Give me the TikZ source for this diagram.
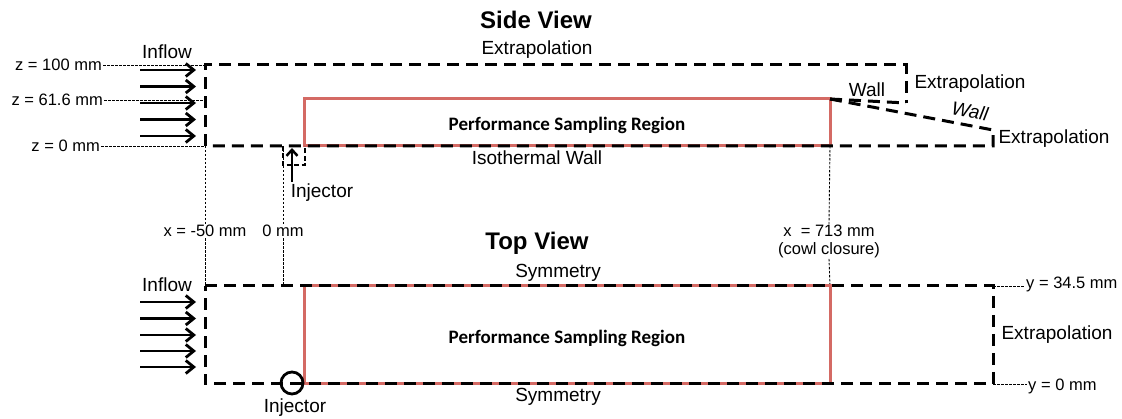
\documentclass[tikz,border=0pt]{standalone}
\usepackage{fontspec}
\setmainfont{Liberation Sans}
\newfontfamily\calib{Carlito}
\usetikzlibrary{arrows.meta}
\definecolor{psrred}{RGB}{212,106,100}
\begin{document}
\begin{tikzpicture}[x=1pt,y=-1pt,
  bnd/.style={line width=3pt,dash pattern=on 12pt off 7pt},
  guide/.style={line width=0.9pt,dash pattern=on 2.5pt off 1.5pt},
  psr/.style={draw=psrred,line width=3pt},
  flow/.style={line width=2.8pt,-{Straight Barb[length=8pt,width=13pt]}},
  lbl/.style={font=\fontsize{19}{22}\selectfont,inner sep=1pt},
  small/.style={font=\fontsize{16.5}{19}\selectfont,inner sep=1pt},
  ttl/.style={font=\fontsize{24}{28}\selectfont\bfseries,inner sep=1pt},
  psrtext/.style={font=\fontsize{19}{22}\selectfont\calib\bfseries,inner sep=1pt}]
\useasboundingbox (0,0) rectangle (1122,419);

% ---------------- Side view ----------------
\coordinate (s1) at (205,65);
\coordinate (s2) at (906,65);
\coordinate (s3) at (906,103);
\coordinate (sc) at (830,99);
\coordinate (s5) at (993,130);
\coordinate (s6) at (993,146);
\coordinate (s7) at (205,146);
\coordinate (sbl) at (304,146);
\coordinate (stl) at (304,99);
\coordinate (sbr) at (830,146);

\draw[psr] (sbl) -- (stl) -- (sc) -- (sbr) -- cycle;
\draw[bnd] (s7) -- (s1) -- (s2) -- (s3);
\draw[bnd] (sc) -- (s3);
\draw[bnd] (sc) -- (s5) -- (s6) -- (s7);

\node[ttl] (sideview) at (536,20) {Side View};
\node[lbl] (extraptop) at (537,50) {Extrapolation};
\node[psrtext] (psrside) at (567,125) {Performance Sampling Region};
\node[lbl] (iso) at (537,158) {Isothermal Wall};
\node[lbl] (wallup) at (867,90) {Wall};
\node[lbl,inner sep=0pt,rotate=-10,font=\fontsize{19}{22}\selectfont\itshape] (walllow) at (970,111) {Wall};
\node[lbl] (extrapr1) at (970,84) {Extrapolation};
\node[lbl] (extrapr2) at (1054,139) {Extrapolation};
\node[lbl] (inflowside) at (167,52) {Inflow};

\foreach \i/\yy in {1/70,2/86.5,3/103,4/119.5,5/136}{
  \coordinate (sa\i) at (140,\yy);
  \coordinate (sb\i) at (196,\yy);
  \draw[flow] (sa\i) -- (sb\i);
}

\node[small,anchor=east] (z100) at (103,65) {z = 100 mm};
\node[small,anchor=east] (z61) at (104,100) {z = 61.6 mm};
\node[small,anchor=east] (z0) at (101,146) {z = 0 mm};
\coordinate (z61e) at (205,100);
\draw[guide] (z100.east) -- (s1);
\draw[guide] (z61.east) -- (z61e);
\draw[guide] (z0.east) -- (s7);

% injector (side)
\coordinate (ia) at (283,146);
\coordinate (ib) at (283,165);
\coordinate (ic) at (305,165);
\coordinate (id) at (305,146);
\draw[line width=2.3pt,dash pattern=on 5pt off 2.5pt] (ia) -- (ib) -- (ic) -- (id);
\coordinate (iarrow0) at (292,182);
\coordinate (iarrow1) at (292,148);
\draw[line width=2.5pt,-{Straight Barb[length=6pt,width=11pt]}] (iarrow0) -- (iarrow1);
\node[lbl] (injside) at (322,193) {Injector};

% guide lines between views
\node[small] (xm50) at (205,231) {x = -50 mm};
\node[small] (x0) at (283,231) {0 mm};
\node[small] (x713) at (829,231) {x \ = 713 mm};
\node[small] (cowl) at (829,250) {(cowl closure)};
\coordinate (g0top) at (283,146);
\draw[guide] (s7) -- (xm50.north);
\draw[guide] (g0top) -- (x0.north);
\draw[guide] (sbr) -- (x713.north);

% ---------------- Top view ----------------
\coordinate (t1) at (205,286);
\coordinate (t2) at (993,286);
\coordinate (t3) at (993,384);
\coordinate (t4) at (205,384);
\coordinate (tbl) at (304,384);
\coordinate (ttl) at (304,286);
\coordinate (ttr) at (830,286);
\coordinate (tbr) at (830,384);
\coordinate (t0) at (283,286);

\draw[guide] (xm50.south) -- (t1);
\draw[guide] (x0.south) -- (t0);
\draw[guide] (cowl.south) -- (ttr);

\draw[psr] (tbl) -- (ttl) -- (ttr) -- (tbr) -- cycle;
\draw[bnd] (t1) -- (t2) -- (t3) -- (t4) -- cycle;

\node[ttl] (topview) at (537,243) {Top View};
\node[lbl] (symtop) at (558,273) {Symmetry};
\node[lbl] (symbot) at (558,397) {Symmetry};
\node[psrtext] (psrtop) at (567,338) {Performance Sampling Region};
\node[lbl] (inflowtop) at (167,285) {Inflow};
\node[lbl] (extraptv) at (1057,335) {Extrapolation};

\foreach \i/\yy in {1/302,2/318.5,3/335,4/351,5/367}{
  \coordinate (ta\i) at (140,\yy);
  \coordinate (tb\i) at (196,\yy);
  \draw[flow] (ta\i) -- (tb\i);
}

\node[draw,circle,line width=2.8pt,minimum size=22pt,inner sep=0pt] (injcirc) at (292,383) {};
\node[lbl] (injtop) at (295,408) {Injector};

\node[small,anchor=west] (y345) at (1025,284) {y = 34.5 mm};
\node[small,anchor=west] (y0) at (1027,386) {y = 0 mm};
\draw[guide] (t2) -- (y345.west |- t2);
\draw[guide] (t3) -- (y0.west |- t3);
\end{tikzpicture}
\end{document}
